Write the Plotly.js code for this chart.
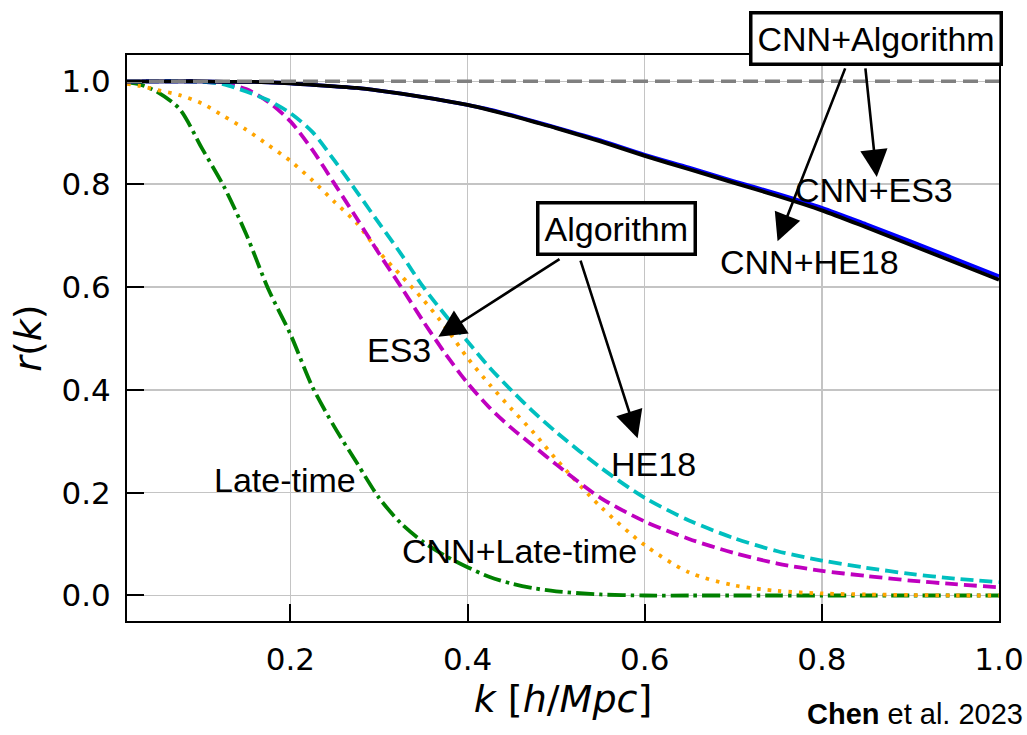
<!DOCTYPE html>
<html>
<head>
<meta charset="utf-8">
<script src="https://cdn.plot.ly/plotly-3.0.1.min.js"></script>
<style>
html,body{margin:0;padding:0;background:#fff;}
#chart{width:1027px;height:735px;}
</style>
</head>
<body>
<div id="chart"></div>
<script>
// wavenumber k [h/Mpc]
const k = [0.0155, 0.03, 0.05, 0.075, 0.1, 0.125, 0.15, 0.175, 0.2, 0.225, 0.25, 0.275, 0.3, 0.325, 0.35, 0.375, 0.4, 0.425, 0.45, 0.475, 0.5, 0.55, 0.6, 0.65, 0.7, 0.75, 0.8, 0.85, 0.9, 0.95, 1.0];

// cross-correlation coefficient r(k) for each reconstruction
const rCnnHE18 = [1.0, 1.0, 1.0, 1.0, 1.0, 0.999, 0.999, 0.998, 0.996, 0.993, 0.99, 0.987, 0.982, 0.976, 0.969, 0.962, 0.954, 0.944, 0.933, 0.921, 0.909, 0.883, 0.855, 0.829, 0.803, 0.777, 0.749, 0.716, 0.682, 0.648, 0.614];
const rCnnES3 = [1.0, 1.0, 1.0, 1.0, 1.0, 0.999, 0.999, 0.998, 0.996, 0.993, 0.99, 0.987, 0.982, 0.976, 0.969, 0.962, 0.954, 0.945, 0.934, 0.922, 0.91, 0.885, 0.857, 0.832, 0.806, 0.781, 0.754, 0.722, 0.689, 0.655, 0.621];
const rHE18 = [1.0, 1.0, 1.0, 1.0, 0.999, 0.994, 0.98, 0.963, 0.938, 0.901, 0.845, 0.785, 0.724, 0.664, 0.6, 0.545, 0.494, 0.443, 0.398, 0.356, 0.318, 0.249, 0.19, 0.146, 0.112, 0.086, 0.068, 0.054, 0.042, 0.033, 0.026];
const rES3 = [1.0, 1.0, 1.0, 1.0, 0.999, 0.995, 0.985, 0.96, 0.922, 0.866, 0.8, 0.733, 0.665, 0.6, 0.533, 0.47, 0.413, 0.365, 0.325, 0.29, 0.255, 0.19, 0.144, 0.11, 0.083, 0.062, 0.048, 0.038, 0.029, 0.022, 0.016];
const rCnnLate = [0.995, 0.991, 0.983, 0.973, 0.957, 0.932, 0.906, 0.876, 0.845, 0.807, 0.765, 0.724, 0.668, 0.622, 0.575, 0.522, 0.462, 0.41, 0.362, 0.316, 0.265, 0.173, 0.098, 0.045, 0.02, 0.009, 0.004, 0.002, 0.001, 0.0, 0.0];
const rLate = [0.998, 0.994, 0.979, 0.946, 0.87, 0.795, 0.703, 0.596, 0.508, 0.405, 0.327, 0.258, 0.19, 0.14, 0.104, 0.077, 0.055, 0.036, 0.023, 0.014, 0.008, 0.002, 0.0, 0.0, 0.0, 0.0, 0.0, 0.0, 0.0, 0.0, 0.0];

const perfectR = 1.0;
const xTicks = [0.2, 0.4, 0.6, 0.8, 1.0];
const yTicks = [0.0, 0.2, 0.4, 0.6, 0.8, 1.0];

const sp = {shape: 'spline', smoothing: 0.8};
const traces = [
  {x: k, y: rLate, name: 'Late-time', mode: 'lines',
   line: Object.assign({color: '#008000', width: 3.8, dash: '18px,5px,3.5px,5px'}, sp)},
  {x: k, y: rCnnLate, name: 'CNN+Late-time', mode: 'lines',
   line: Object.assign({color: '#FFA500', width: 3.8, dash: '3.5px,7px'}, sp)},
  {x: k, y: rES3, name: 'ES3', mode: 'lines',
   line: Object.assign({color: '#BF00BF', width: 3.8, dash: '13px,6px'}, sp)},
  {x: k, y: rHE18, name: 'HE18', mode: 'lines',
   line: Object.assign({color: '#00BFBF', width: 3.8, dash: '13px,6px'}, sp)},
  {x: k, y: rCnnES3, name: 'CNN+ES3', mode: 'lines',
   line: Object.assign({color: '#0000FF', width: 3.8}, sp)},
  {x: k, y: rCnnHE18, name: 'CNN+HE18', mode: 'lines',
   line: Object.assign({color: '#000000', width: 3.8}, sp)},
  {x: [k[0], k[k.length - 1]], y: [perfectR, perfectR], name: 'r = 1', mode: 'lines',
   line: {color: '#808080', width: 3.5, dash: '15px,7px'}}
];

const txtFont = {family: 'Liberation Sans, Arial, sans-serif', size: 34, color: '#000'};
const arrowStyle = {showarrow: true, arrowhead: 2, arrowsize: 2.1, arrowwidth: 2.6, arrowcolor: '#000',
  axref: 'x', ayref: 'y', xref: 'x', yref: 'y', text: ''};

const annotations = [
  {xref: 'paper', yref: 'paper', x: 0.8595, y: 1.029, xanchor: 'center', yanchor: 'middle',
   text: 'CNN+Algorithm', showarrow: false,
   font: txtFont, bordercolor: '#000', borderwidth: 3.5, borderpad: 5, bgcolor: '#fff'},
  Object.assign({x: 0.750, y: 0.689, ax: 0.827, ay: 1.028}, arrowStyle),
  Object.assign({x: 0.862, y: 0.814, ax: 0.849, ay: 1.028}, arrowStyle),
  {xref: 'x', yref: 'y', x: 0.568, y: 0.714, xanchor: 'center', yanchor: 'middle',
   text: 'Algorithm', showarrow: false,
   font: txtFont, bordercolor: '#000', borderwidth: 3.5, borderpad: 5, bgcolor: '#fff'},
  Object.assign({x: 0.367, y: 0.503, ax: 0.5055, ay: 0.656}, arrowStyle),
  Object.assign({x: 0.592, y: 0.306, ax: 0.527, ay: 0.654}, arrowStyle),
  {xref: 'x', yref: 'y', x: 0.859, y: 0.788, text: 'CNN+ES3', showarrow: false, font: txtFont},
  {xref: 'x', yref: 'y', x: 0.786, y: 0.649, text: 'CNN+HE18', showarrow: false, font: txtFont},
  {xref: 'x', yref: 'y', x: 0.323, y: 0.477, text: 'ES3', showarrow: false, font: txtFont},
  {xref: 'x', yref: 'y', x: 0.610, y: 0.255, text: 'HE18', showarrow: false, font: txtFont},
  {xref: 'x', yref: 'y', x: 0.194, y: 0.224, text: 'Late-time', showarrow: false, font: txtFont},
  {xref: 'x', yref: 'y', x: 0.459, y: 0.0865, text: 'CNN+Late-time', showarrow: false, font: txtFont},
  {xref: 'paper', yref: 'paper', x: 1.0298, y: -0.164, xanchor: 'right', yanchor: 'middle',
   text: '<b>Chen</b> et al. 2023', showarrow: false,
   font: {family: 'Liberation Sans, Arial, sans-serif', size: 29, color: '#000'}}
];

const axisCommon = {
  showline: true, linecolor: '#000', linewidth: 2, mirror: true,
  showgrid: true, gridcolor: '#c4c4c4', gridwidth: 1.5, zeroline: false,
  ticks: 'inside', ticklen: 17, tickwidth: 2, tickcolor: '#000',
  tickfont: {family: 'DejaVu Sans, sans-serif', size: 31, color: '#000'},
  tickformat: '.1f'
};

const layout = {
  width: 1027, height: 735,
  margin: {l: 127, r: 28, t: 55, b: 114},
  paper_bgcolor: '#fff', plot_bgcolor: '#fff',
  showlegend: false,
  xaxis: Object.assign({}, axisCommon, {
    range: [0.0155, 1.0], tickmode: 'array', tickvals: xTicks, ticklabelstandoff: 10,
    title: {text: '<i>k</i> [<i>h</i>/<i>Mpc</i>]', standoff: 2,
            font: {family: 'DejaVu Sans, sans-serif', size: 38, color: '#000'}}
  }),
  yaxis: Object.assign({}, axisCommon, {
    range: [-0.0496, 1.0511], tickmode: 'array', tickvals: yTicks, ticklabelstandoff: 8,
    title: {text: '<i>r</i>(<i>k</i>)', standoff: 8,
            font: {family: 'DejaVu Sans, sans-serif', size: 38, color: '#000'}}
  }),
  annotations: annotations
};

Plotly.newPlot('chart', traces, layout, {displayModeBar: false, staticPlot: true});
</script>
</body>
</html>
